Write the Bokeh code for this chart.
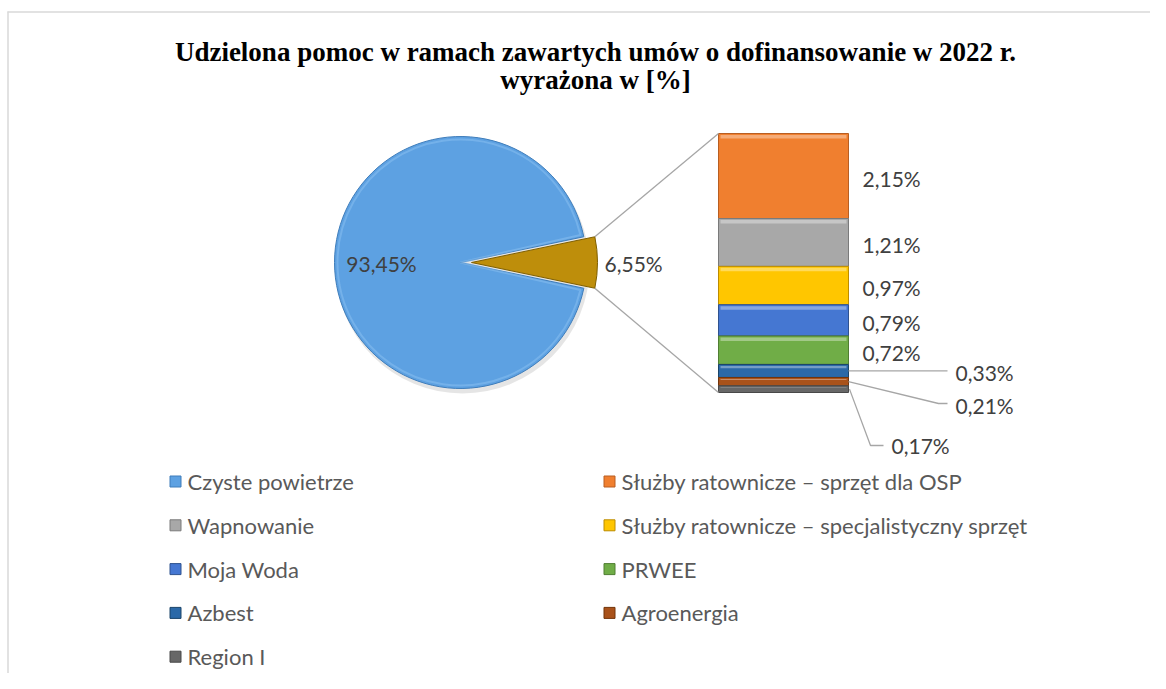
import math
from bokeh.plotting import figure
from bokeh.models import Range1d, ColumnDataSource
from bokeh.core.properties import value
from bokeh.embed import file_html
from bokeh.resources import INLINE

# ---- data ----
title_lines = ["Udzielona pomoc w ramach zawartych umów o dofinansowanie w 2022 r.",
               "wyrażona w [%]"]
names = ["Czyste powietrze", "Służby ratownicze – sprzęt dla OSP", "Wapnowanie",
         "Służby ratownicze – specjalistyczny sprzęt", "Moja Woda", "PRWEE",
         "Azbest", "Agroenergia", "Region I"]
values = [93.45, 2.15, 1.21, 0.97, 0.79, 0.72, 0.33, 0.21, 0.17]
colors = ["#5DA1E2", "#F07F2F", "#A8A8A8", "#FFC600", "#4577D2", "#70AD47",
          "#2B69A8", "#A9521A", "#676767"]
edge_colors = ["#3F7DBA", "#B85E22", "#7A7A7A", "#BC8C00", "#2F528F", "#507E32",
               "#1A4468", "#733409", "#484848"]
other_color = "#BE8E0B"

def fmt(v):
    return f"{v:.2f}".replace(".", ",") + "%"

# ---- layout constants ----
W, H = 1150, 673
p = figure(width=W, height=H, x_range=Range1d(0, W), y_range=Range1d(H, 0),
           output_backend="svg", toolbar_location=None, min_border=0,
           x_axis_type=None, y_axis_type=None)
p.grid.visible = False
p.outline_line_color = None
p.background_fill_color = "white"

# frame (top and left edges visible in the reference)
p.line(x=[7, W], y=[11.5, 11.5], line_color="#D9D9D9", line_width=1.5)
p.line(x=[7.5, 7.5], y=[11, H], line_color="#D9D9D9", line_width=1.5)

FONT = value("Lato")
TXT = "#595959"

# title
p.text(x=[595, 595], y=[51, 79], text=title_lines, text_font=value("Liberation Serif"),
       text_font_style="bold", text_font_size="27px", text_color="black",
       text_align="center", text_baseline="middle")

# ---- pie ----
cx, cy, r, explode = 460, 262, 126, 11
main_v = values[0]
rest = values[1:]
other_v = sum(rest)
theta = other_v / (main_v + other_v) * 2 * math.pi

# shadow
p.circle(x=[cx + 2], y=[cy + 4], radius=r + 1, fill_color="#000000", fill_alpha=0.10,
         line_color=None)
p.wedge(x=[cx], y=[cy], radius=r, start_angle=theta / 2, end_angle=2 * math.pi - theta / 2,
        fill_color=colors[0], line_color=edge_colors[0], line_width=1)
# soft rim highlight on the main slice
p.wedge(x=[cx], y=[cy], radius=r - 3, start_angle=theta / 2 + 0.02,
        end_angle=2 * math.pi - theta / 2 - 0.02,
        fill_alpha=0.0, line_color="#8CC2F2", line_alpha=0.5, line_width=2)
p.wedge(x=[cx + explode], y=[cy], radius=r, start_angle=-theta / 2, end_angle=theta / 2,
        fill_color=other_color, line_color="#7F5F00", line_width=1)

p.text(x=[cx - 79], y=[cy + 1], text=[fmt(main_v)], text_font=FONT, text_font_size="21px",
       text_color="#404040", text_align="center", text_baseline="middle")
p.text(x=[cx + explode + r + 7], y=[cy + 1], text=[fmt(other_v)], text_font=FONT,
       text_font_size="21px", text_color="#404040", text_align="left", text_baseline="middle")

# ---- stacked bar of the rest ----
bx0, bx1, btop, bheight = 718, 848, 133, 259
scale = bheight / other_v
tops, bots = [], []
acc = 0.0
for v in rest:
    tops.append(btop + acc * scale)
    acc += v
    bots.append(btop + acc * scale)
src = ColumnDataSource(dict(left=[bx0] * len(rest), right=[bx1] * len(rest), top=tops,
                            bottom=bots, color=colors[1:], edge=edge_colors[1:]))
p.quad(left="left", right="right", top="top", bottom="bottom", source=src,
       fill_color="color", line_color="edge", line_width=1)
# bevel highlight
hl = ColumnDataSource(dict(left=[bx0 + 2] * len(rest), right=[bx1 - 2] * len(rest),
                           top=[t + 1.5 for t in tops],
                           bottom=[t + min(5, (b - t) * 0.3) for t, b in zip(tops, bots)]))
p.quad(left="left", right="right", top="top", bottom="bottom", source=hl,
       fill_color="white", fill_alpha=0.35, line_color=None)

# connector lines from the pie slice to the bar
ax = cx + explode + r * math.cos(theta / 2)
ay = r * math.sin(theta / 2)
p.line(x=[ax, bx0], y=[cy - ay, btop], line_color="#A6A6A6", line_width=1.3)
p.line(x=[ax, bx0], y=[cy + ay, btop + bheight], line_color="#A6A6A6", line_width=1.3)

# labels for the bar
mids = [(t + b) / 2 for t, b in zip(tops, bots)]
big = 5
p.text(x=[862] * big, y=[m + 2 for m in mids[:big]], text=[fmt(v) for v in rest[:big]],
       text_font=FONT, text_font_size="21px", text_color="#404040",
       text_align="left", text_baseline="middle")
# leader lines for small segments
m5, m6, m7 = mids[5], mids[6], mids[7]
p.line(x=[bx1, 947], y=[m5, m5], line_color="#A6A6A6", line_width=1.3)
p.line(x=[bx1, 938, 947], y=[m6, 403, 403], line_color="#A6A6A6", line_width=1.3)
p.line(x=[bx1 + 1, 870, 883], y=[m7, 445, 445], line_color="#A6A6A6", line_width=1.3)
p.text(x=[955, 955, 891], y=[372, 405, 445], text=[fmt(v) for v in rest[big:]],
       text_font=FONT, text_font_size="21px", text_color="#404040",
       text_align="left", text_baseline="middle")

# ---- legend (two columns, row-major) ----
col_x = [175, 609]
row_y0, row_dy = 481, 43.8
lx, ly = [], []
for i in range(len(names)):
    lx.append(col_x[i % 2])
    ly.append(row_y0 + (i // 2) * row_dy)
lsrc = ColumnDataSource(dict(x=lx, y=ly, tx=[x + 12 for x in lx], name=names,
                             color=colors, edge=edge_colors))
p.rect(x="x", y="y", width=11, height=11, source=lsrc, fill_color="color",
       line_color="edge", line_width=1)
p.text(x="tx", y="y", text="name", source=lsrc, text_font=FONT, text_font_size="22px",
       text_color=TXT, text_align="left", text_baseline="middle")

open("out.html", "w").write(file_html(p, INLINE))
